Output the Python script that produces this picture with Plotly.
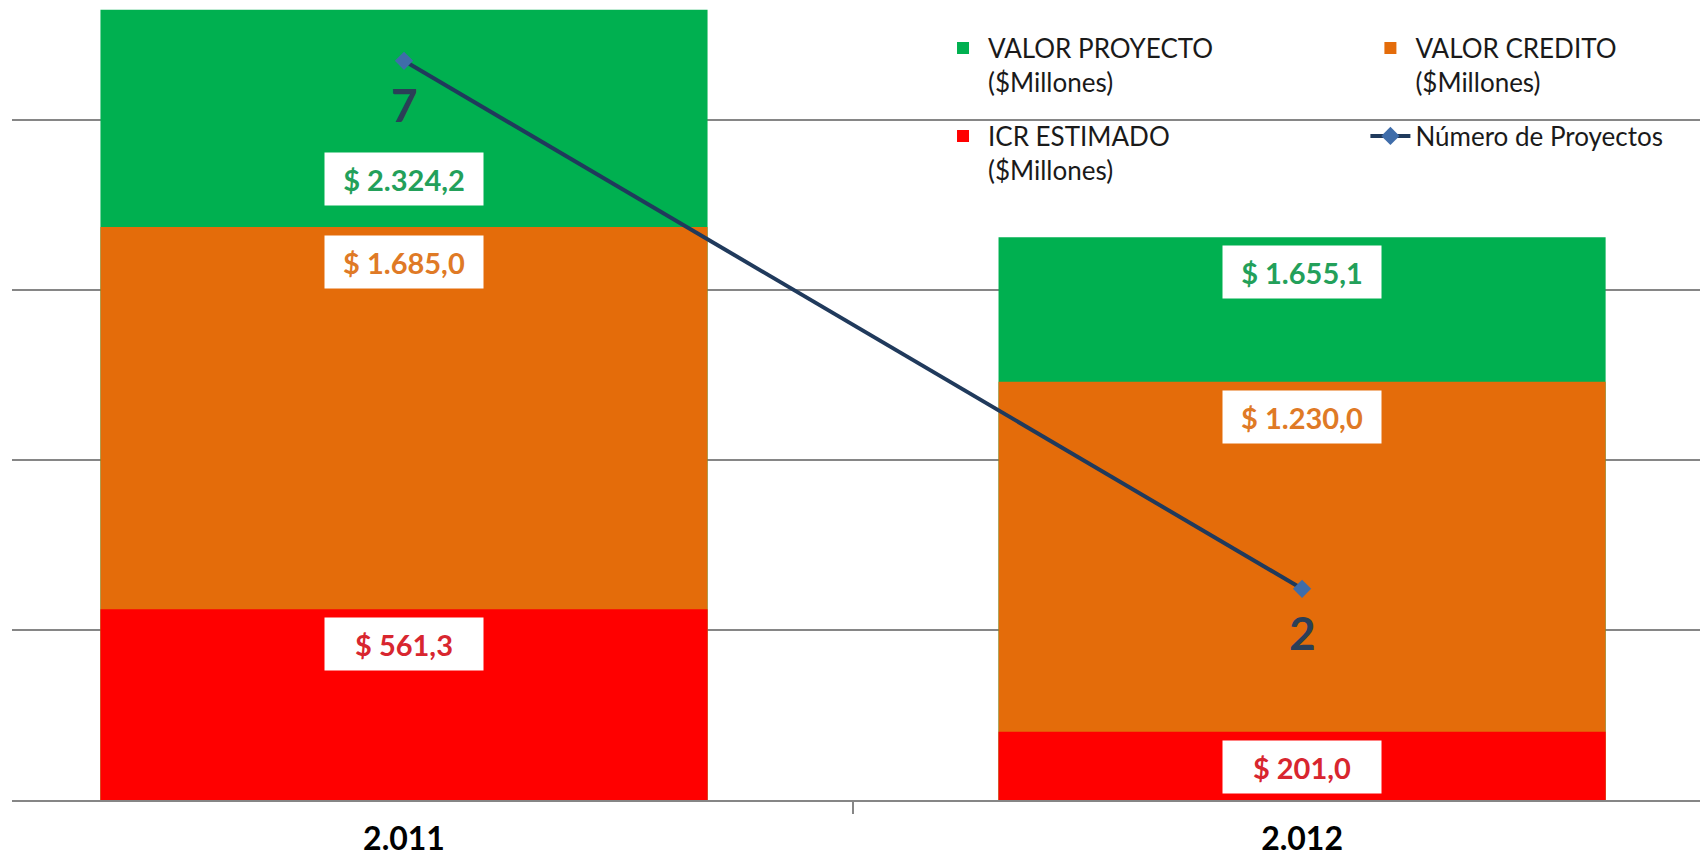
import plotly.graph_objects as go

# datos del grafico
anios = ["2.011", "2.012"]
valor_proyecto = [2324.2, 1655.1]
valor_credito = [1685.0, 1230.0]
icr_estimado = [561.3, 201.0]
num_proyectos = [7, 2]

nombres = ["VALOR PROYECTO<br>($Millones)", "VALOR CREDITO<br>($Millones)",
           "ICR ESTIMADO<br>($Millones)", "Número de Proyectos"]

FONT = "Lato"
verde, naranja, rojo = "#00B050", "#E46C0A", "#FF0000"
txt_verde, txt_naranja, txt_rojo = "#23A05A", "#DF7A26", "#D8262F"
azul_linea, azul_marca = "#203A5C", "#3F6DAA"


def fmt(v):
    # formato colombiano: miles con punto, decimales con coma
    s = f"{v:,.1f}"
    return "$ " + s.replace(",", "X").replace(".", ",").replace("X", ".")


fig = go.Figure()

series = [(valor_proyecto, verde, nombres[0], "legend"),
          (valor_credito, naranja, nombres[1], "legend2"),
          (icr_estimado, rojo, nombres[2], "legend3")]
for vals, col, nom, leg in series:
    fig.add_trace(go.Bar(x=anios, y=vals, name=nom, marker_color=col,
                         marker_line_width=0, width=0.676, legend=leg))

fig.add_trace(go.Scatter(x=anios, y=num_proyectos, name=nombres[3], yaxis="y2",
                         mode="lines+markers",
                         line=dict(color=azul_linea, width=4),
                         marker=dict(symbol="diamond", size=14, color=azul_marca),
                         legend="legend4"))

# numero de proyectos bajo cada marcador
for ci, n in enumerate(num_proyectos):
    fig.add_annotation(x=ci, y=n, xref="x", yref="y2", text=str(n), showarrow=False,
                       yanchor="middle", yshift=-44,
                       font=dict(family=FONT, size=46, color="#2B3F57", weight="bold"))

# etiquetas de datos con recuadro blanco
etiquetas = [(valor_proyecto, txt_verde), (valor_credito, txt_naranja), (icr_estimado, txt_rojo)]
desplaz = {(0, 0): -169}
for si, (vals, col) in enumerate(etiquetas):
    for ci, v in enumerate(vals):
        fig.add_annotation(x=ci, y=v, xref="x", yref="y", text=fmt(v),
                           showarrow=False, yanchor="middle",
                           yshift=desplaz.get((si, ci), -35),
                           bgcolor="white", width=150, height=44, borderpad=4,
                           font=dict(family=FONT, size=29, color=col, weight="bold"))

leg_base = dict(bgcolor="rgba(0,0,0,0)", xanchor="left", yanchor="top", valign="top",
                font=dict(family=FONT, size=26, color="#1a1a1a"), itemwidth=40)
fig.update_layout(
    width=1700, height=851,
    margin=dict(l=4, r=0, t=0, b=59),
    barmode="overlay",
    showlegend=True,
    plot_bgcolor="white", paper_bgcolor="white",
    font=dict(family=FONT),
    legend=dict(leg_base, x=0.546, y=0.979),
    legend2=dict(leg_base, x=0.798, y=0.979),
    legend3=dict(leg_base, x=0.546, y=0.868),
    legend4=dict(leg_base, x=0.798, y=0.868),
    xaxis=dict(type="category", range=[-0.4365, 1.452], showgrid=False, showline=True,
               linecolor="#868686", linewidth=1.5, ticks="outside", tickson="boundaries",
               ticklen=12, tickcolor="#868686", tickwidth=1.5, ticklabelstandoff=10,
               tickfont=dict(family=FONT, size=32, color="black", weight="bold")),
    yaxis=dict(range=[0, 2329.4], dtick=500, showticklabels=False, gridcolor="#868686",
               gridwidth=1.5, zeroline=False),
    yaxis2=dict(range=[0, 7.5], overlaying="y", side="right", showgrid=False,
                showticklabels=False, zeroline=False),
)

fig.write_html("out.html")
